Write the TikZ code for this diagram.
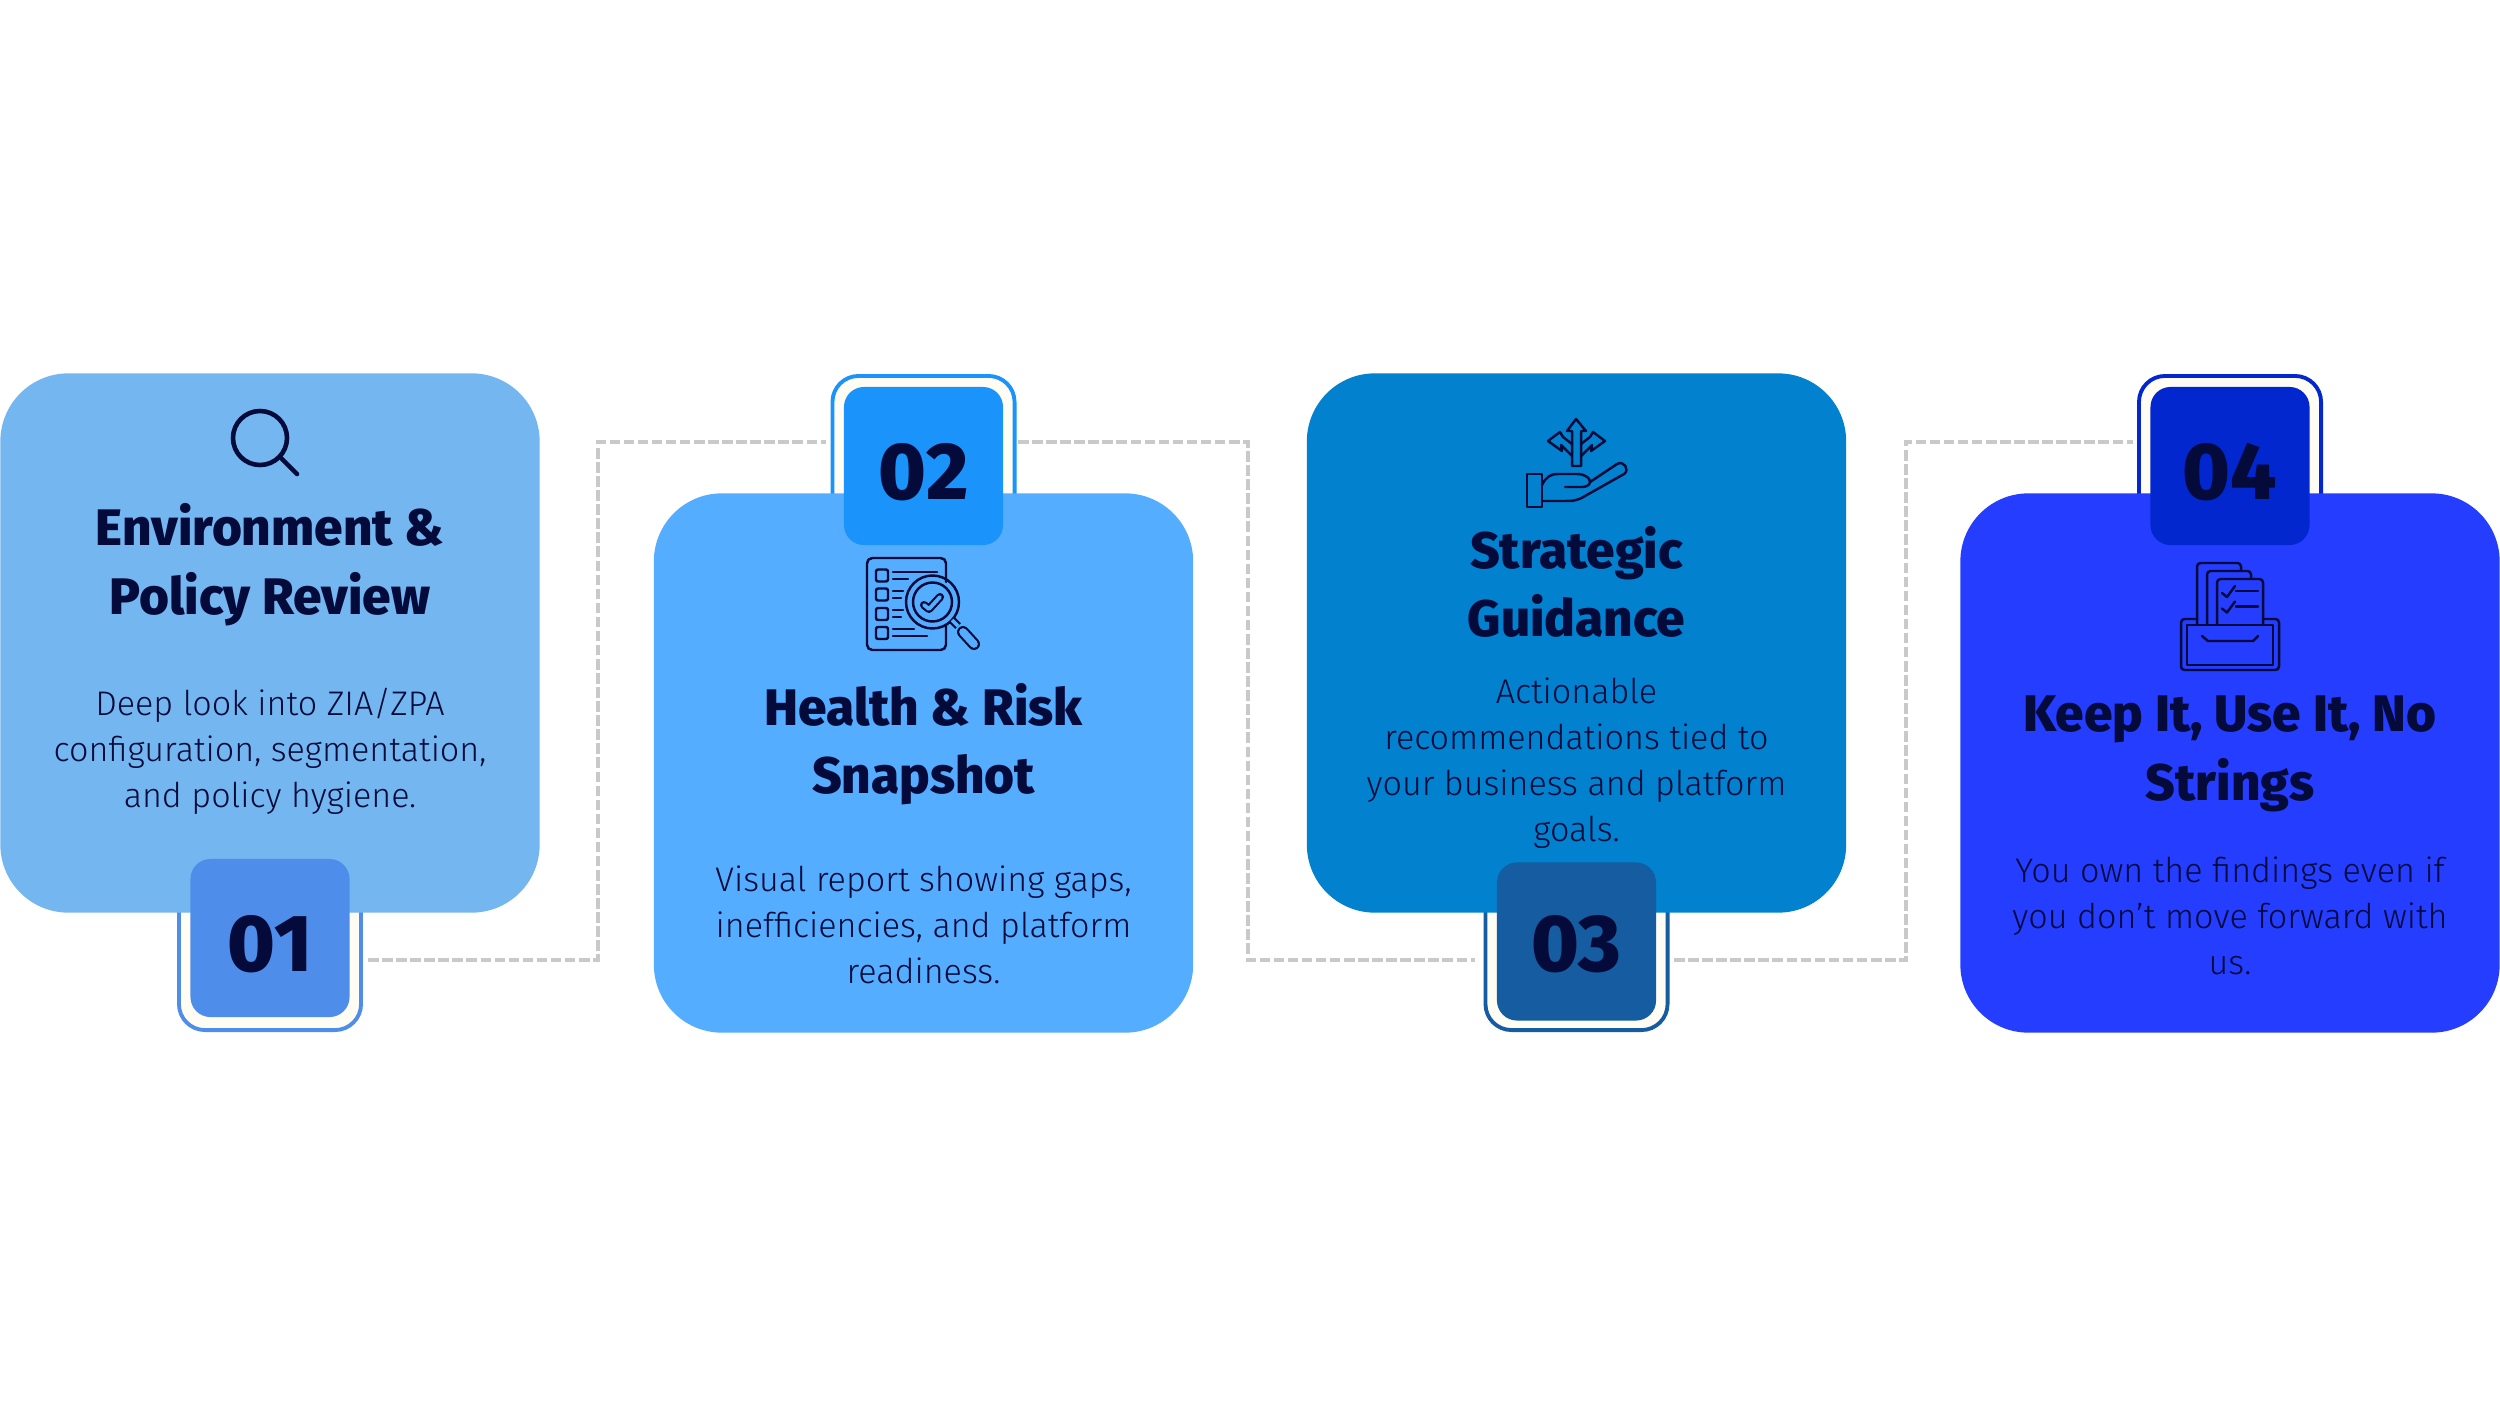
\documentclass[tikz,border=0pt]{standalone}
\usepackage{fontspec}
\setmainfont{Fira Sans Light}[BoldFont={Fira Sans ExtraBold}]
\usepackage{tikz}
\definecolor{inkcol}{HTML}{040A3A}
\definecolor{cardAcol}{HTML}{74B6EF}
\definecolor{cardBcol}{HTML}{55ADFF}
\definecolor{cardCcol}{HTML}{0281CE}
\definecolor{cardDcol}{HTML}{253DFF}
\definecolor{tabAcol}{HTML}{4F8DEA}
\definecolor{tabBcol}{HTML}{1A94FA}
\definecolor{tabCcol}{HTML}{155CA0}
\definecolor{tabDcol}{HTML}{0227CF}
\definecolor{creamcol}{HTML}{FFFCF3}
\definecolor{linkcol}{HTML}{C9C9C9}
\tikzset{
  cardbox/.style={rectangle, rounded corners=0.68cm, minimum width=5.39cm, minimum height=5.39cm, inner sep=0pt},
  tabbox/.style={rectangle, rounded corners=0.2cm, minimum width=1.59cm, minimum height=1.58cm, inner sep=0pt},
  framebox/.style={rectangle, rounded corners=0.26cm, fill=creamcol, line width=1.1pt, minimum width=1.82cm, minimum height=1.88cm, inner sep=0pt},
  titletext/.style={text=inkcol, align=center, inner sep=0pt, font=\fontsize{14.6}{19.5}\selectfont\bfseries},
  bodytext/.style={text=inkcol, align=center, inner sep=0pt, font=\fontsize{9.7}{13.1}\selectfont},
  numtext/.style={text=inkcol, inner sep=0pt, font=\fontsize{23}{23}\selectfont\bfseries},
  linkline/.style={draw=linkcol, line width=1pt, dash pattern=on 3pt off 1pt},
  iconline/.style={draw=inkcol, line width=0.7pt, line join=round, line cap=round},
}

\begin{document}
\begin{tikzpicture}[x=0.01cm, y=-0.01cm]
\useasboundingbox (0,0) rectangle (2500,1406);

% ================= Connectors =================
\coordinate (linkAout) at (368,960);
\coordinate (linkAmid) at (598,700);
\coordinate (linkBin) at (826,442);
\coordinate (linkBout) at (1018,442);
\coordinate (linkBmid) at (1248,700);
\coordinate (linkCin) at (1475,960);
\coordinate (linkCout) at (1674,960);
\coordinate (linkCmid) at (1906,700);
\coordinate (linkDin) at (2133,442);

\draw[linkline] (linkAout) -| (linkAmid) |- (linkBin);
\draw[linkline] (linkBout) -| (linkBmid) |- (linkCin);
\draw[linkline] (linkCout) -| (linkCmid) |- (linkDin);

% ================= Step 1 =================
\node[framebox, draw=tabAcol] (frameA) at (270,936) {};
\node[cardbox, fill=cardAcol] (cardA) at (270,643) {};
\node[tabbox, fill=tabAcol] (tabA) at (270,938) {};
\node[numtext] (numA) at (270,944) {01};

% Magnifier
\draw[iconline, line width=1.3pt] (260,438) circle (27);
\draw[iconline, line width=1.3pt] (280,457) -- (297,474);

\node[titletext] (titleA) at (270,565) {Environment \&\\Policy Review};
\node[bodytext] (bodyA) at (270,751) {Deep look into ZIA/ZPA\\configuration, segmentation,\\and policy hygiene.};

% ================= Step 2 =================
\node[framebox, draw=tabBcol] (frameB) at (923.5,470) {};
\node[cardbox, fill=cardBcol] (cardB) at (923.5,763) {};
\node[tabbox, fill=tabBcol] (tabB) at (923.5,466) {};
\node[numtext] (numB) at (923.5,472) {02};

% Report sheet under a lens
\draw[iconline, rounded corners=1.5pt]
  (946,582) -- (946,558) -- (867,558) -- (867,650) -- (946,650) -- (946,625);
\foreach \y in {575.5,594.5,614,633}{
  \draw[iconline, rounded corners=0.6pt] (876,\y-6) rectangle (888,\y+6);
}
\foreach \xa/\xb/\y in {
  893/937/572, 893/908/579, 893/903/591, 893/901/598,
  893/903/610, 893/901/617, 893/914/629, 893/927/636
}{
  \draw[iconline] (\xa,\y) -- (\xb,\y);
}
\draw[iconline] (932.5,602) circle (26.5);
\draw[iconline] (932.5,602) circle (19.5);
\draw[iconline, line width=0.6pt, double=cardBcol, double distance=1.1pt]
  (924,605) -- (929,609) -- (940,597);
\draw[iconline, line cap=butt, line width=0.6pt, double=cardBcol, double distance=1.1pt]
  (952,620) -- (958,626);
\draw[iconline, line width=0.6pt, double=cardBcol, double distance=2.2pt]
  (963,632) -- (974,644);

\node[titletext] (titleB) at (923.5,744) {Health \& Risk\\Snapshot};
\node[bodytext] (bodyB) at (923.5,925) {Visual report showing gaps,\\inefficiencies, and platform\\readiness.};

% ================= Step 3 =================
\node[framebox, draw=tabCcol] (frameC) at (1576.5,936) {};
\node[cardbox, fill=cardCcol] (cardC) at (1576.5,643) {};
\node[tabbox, fill=tabCcol] (tabC) at (1576.5,941.5) {};
\node[numtext] (numC) at (1576.5,944) {03};

% Hand with three arrows
\draw[iconline] (1527,474) rectangle (1542,507);
\draw[iconline]
  (1542,485) .. controls (1546,477) and (1550,474) .. (1558,474)
  -- (1577,474) .. controls (1585,474) and (1590,478) .. (1590,482)
  -- (1617,464) .. controls (1624,460) and (1630,470) .. (1624,474)
  -- (1585,496) .. controls (1577,501) and (1572,501) .. (1565,501)
  -- (1542,501);
\draw[iconline] (1565,487) -- (1582,487) .. controls (1586,487) and (1590,485) .. (1590,482);
\draw[iconline]
  (1572,466) -- (1572,431) -- (1567,431) -- (1576,419) -- (1586,431) -- (1581,431) -- (1581,466) -- cycle;
\draw[iconline]
  (1572,444) -- (1563,437) -- (1560,432) -- (1548,441) -- (1562,451) -- (1561,445) -- (1572,456);
\draw[iconline]
  (1581,444) -- (1590,437) -- (1593,432) -- (1605,441) -- (1591,451) -- (1592,445) -- (1581,456);

\node[titletext] (titleC) at (1576.5,582) {Strategic\\Guidance};
\node[bodytext] (bodyC) at (1576.5,763) {Actionable\\recommendations tied to\\your business and platform\\goals.};

% ================= Step 4 =================
\node[framebox, draw=tabDcol] (frameD) at (2230,470) {};
\node[cardbox, fill=cardDcol] (cardD) at (2230,763) {};
\node[tabbox, fill=tabDcol] (tabD) at (2230,466) {};
\node[numtext] (numD) at (2230,472) {04};

% Papers in a drawer
\draw[iconline, rounded corners=1pt] (2197,624) -- (2197,563) -- (2241,563) -- (2241,571);
\draw[iconline, rounded corners=1pt] (2207,624) -- (2207,571) -- (2251,571) -- (2251,579);
\draw[iconline, rounded corners=1pt] (2217,624) -- (2217,579) -- (2263,579) -- (2263,624);
\foreach \y in {0,15.5}{
  \draw[iconline] (2222,593+\y) -- (2227,597+\y) -- (2235,586+\y);
  \draw[iconline] (2236,591+\y) -- (2258,591+\y);
}
\draw[iconline, rounded corners=1pt]
  (2197,619) -- (2181,619) -- (2181,670) -- (2279,670) -- (2279,619) -- (2263,619);
\draw[iconline] (2187,625) rectangle (2273,665);
\draw[iconline] (2202,636) -- (2208,641) -- (2253,641) -- (2258,636);

\node[titletext] (titleD) at (2230,754) {Keep It, Use It, No\\Strings};
\node[bodytext] (bodyD) at (2230,916) {You own the findings even if\\you don’t move forward with\\us.};

\end{tikzpicture}
\end{document}
